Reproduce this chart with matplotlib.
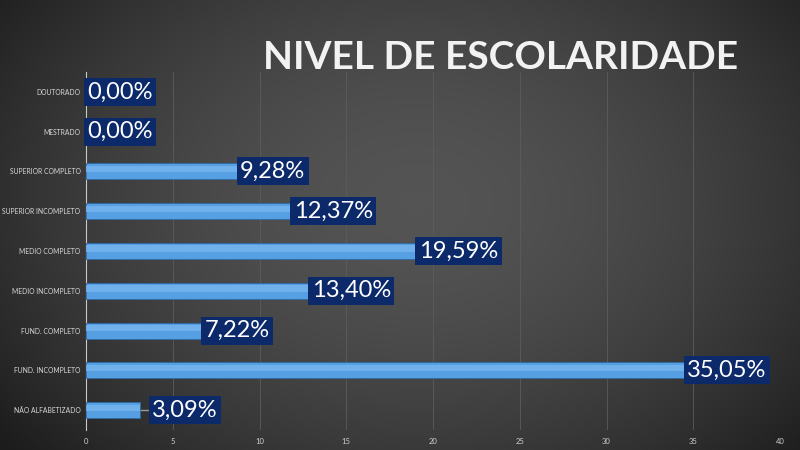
import numpy as np
import matplotlib
matplotlib.use("Agg")
import matplotlib.pyplot as plt

categories = [
    "NÃO ALFABETIZADO",
    "FUND. INCOMPLETO",
    "FUND. COMPLETO",
    "MEDIO INCOMPLETO",
    "MEDIO COMPLETO",
    "SUPERIOR INCOMPLETO",
    "SUPERIOR COMPLETO",
    "MESTRADO",
    "DOUTORADO",
]
values = [3.09, 35.05, 7.22, 13.40, 19.59, 12.37, 9.28, 0.00, 0.00]
labels = ["3,09%", "35,05%", "7,22%", "13,40%", "19,59%", "12,37%", "9,28%", "0,00%", "0,00%"]
x_ticks = [0, 5, 10, 15, 20, 25, 30, 35, 40]

plt.rcParams["font.family"] = ["Lato", "DejaVu Sans"]

fig = plt.figure(figsize=(8, 4.5), dpi=100)

# dark radial background
bg = fig.add_axes([0, 0, 1, 1], zorder=-10)
yy, xx = np.mgrid[0:1:200j, 0:1:356j]
r = np.sqrt(((xx - 0.52) / 0.7) ** 2 + ((yy - 0.45) / 0.9) ** 2)
shade = np.clip(0.33 - 0.24 * r ** 1.7, 0.11, 0.4)
bg.imshow(np.dstack([shade, shade, shade]), aspect="auto", extent=[0, 1, 0, 1])
bg.axis("off")

ax = fig.add_axes([0.1075, 0.0444, 0.8675, 0.7956])
ax.patch.set_alpha(0)

ypos = np.arange(len(categories))
ax.barh(ypos, values, height=0.4, color="#569fe2", edgecolor="#2d6aa8", linewidth=0.6, zorder=3)
# soft highlight in the upper half of each bar
ax.barh(ypos + 0.06, values, height=0.16, color="#7db9ef", alpha=0.7, linewidth=0, zorder=4)

for y, v, lab in zip(ypos, values, labels):
    if v == 0:
        dx = 1
    elif v < 5:
        dx = 9
    else:
        dx = -5
    ax.annotate(lab, (v, y), xytext=(dx, 0), textcoords="offset points",
                ha="left", va="center", color="white", fontsize=17, zorder=6,
                bbox=dict(boxstyle="square,pad=0.15", fc="#0c2a6a", ec="none"))
    if dx == 9:
        ax.plot([v, v + 0.55], [y, y], color="#9a9a9a", lw=1, zorder=2)

ax.set_xlim(0, 40)
ax.set_ylim(-0.5, 8.5)
ax.set_xticks(x_ticks)
ax.set_yticks(ypos)
ax.set_yticklabels(categories, fontsize=4.9, color="#d8d8d8")
ax.tick_params(axis="x", labelsize=5.5, colors="#cfcfcf", length=0, pad=6)
ax.tick_params(axis="y", length=0, pad=4)
ax.grid(axis="x", color="#5c5c5c", linewidth=0.6, zorder=0)
for s in ["top", "right", "bottom"]:
    ax.spines[s].set_visible(False)
ax.spines["left"].set_color("#c8c8c8")
ax.spines["left"].set_linewidth(0.8)

fig.text(0.626, 0.873, "NIVEL DE ESCOLARIDADE", ha="center", va="center",
         fontsize=28, fontweight="bold", color="#f2f2f2")

fig.savefig("out.png", dpi=100)
